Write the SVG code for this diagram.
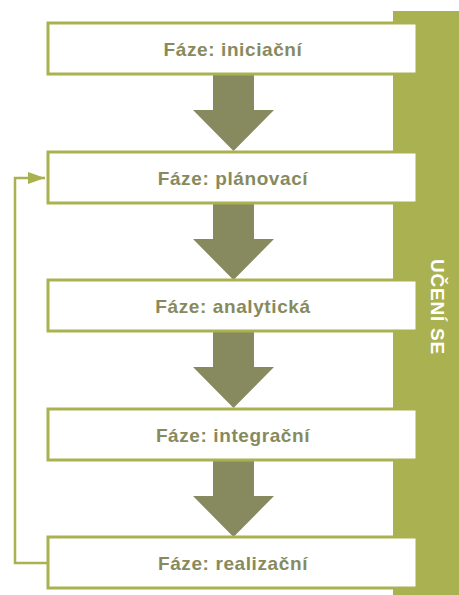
<svg xmlns="http://www.w3.org/2000/svg" width="459" height="595" viewBox="0 0 459 595">
<style>
.box{fill:#ffffff;stroke:#aab150;stroke-width:3}
.lbl{font-family:"Liberation Sans",Arial,sans-serif;font-weight:bold;font-size:19px;letter-spacing:0.6px;fill:#878a5e;text-anchor:middle}
.arr{fill:#878a5e}
</style>
<defs>
<marker id="ah" viewBox="0 0 10 10" refX="10" refY="5" markerWidth="17" markerHeight="12" markerUnits="userSpaceOnUse" orient="auto" preserveAspectRatio="none">
<path d="M0,0 L10,5 L0,10 Z" fill="#aab150"/>
</marker>
</defs>
<rect id="learning-bar" x="393" y="11" width="66" height="584" fill="#aab150"/>
<text x="437" y="307" transform="rotate(90 437 307)" font-family="Liberation Sans,Arial,sans-serif" font-weight="bold" font-size="19" letter-spacing="0.8" fill="#ffffff" text-anchor="middle" dominant-baseline="central">UČENÍ SE</text>
<g id="connectors">
<path class="arr" d="M213,74 H254 V110 H274 L233.5,151 L193,110 H213 Z"/>
<path class="arr" d="M213,203 H254 V239 H274 L233.5,280 L193,239 H213 Z"/>
<path class="arr" d="M213,331 H254 V367 H274 L233.5,408 L193,367 H213 Z"/>
<path class="arr" d="M213,460 H254 V496 H274 L233.5,537 L193,496 H213 Z"/>
<path d="M48,563 H15 V178 H45" fill="none" stroke="#aab150" stroke-width="2.5" marker-end="url(#ah)"/>
</g>
<g id="n1"><rect class="box" x="48" y="23" width="369" height="51"/><text class="lbl" x="233" y="56">Fáze: iniciační</text></g>
<g id="n2"><rect class="box" x="48" y="152" width="369" height="51"/><text class="lbl" x="233" y="185">Fáze: plánovací</text></g>
<g id="n3"><rect class="box" x="48" y="280" width="369" height="51"/><text class="lbl" x="233" y="313">Fáze: analytická</text></g>
<g id="n4"><rect class="box" x="48" y="409" width="369" height="51"/><text class="lbl" x="233" y="442">Fáze: integrační</text></g>
<g id="n5"><rect class="box" x="48" y="537" width="369" height="51"/><text class="lbl" x="233" y="570">Fáze: realizační</text></g>
</svg>
